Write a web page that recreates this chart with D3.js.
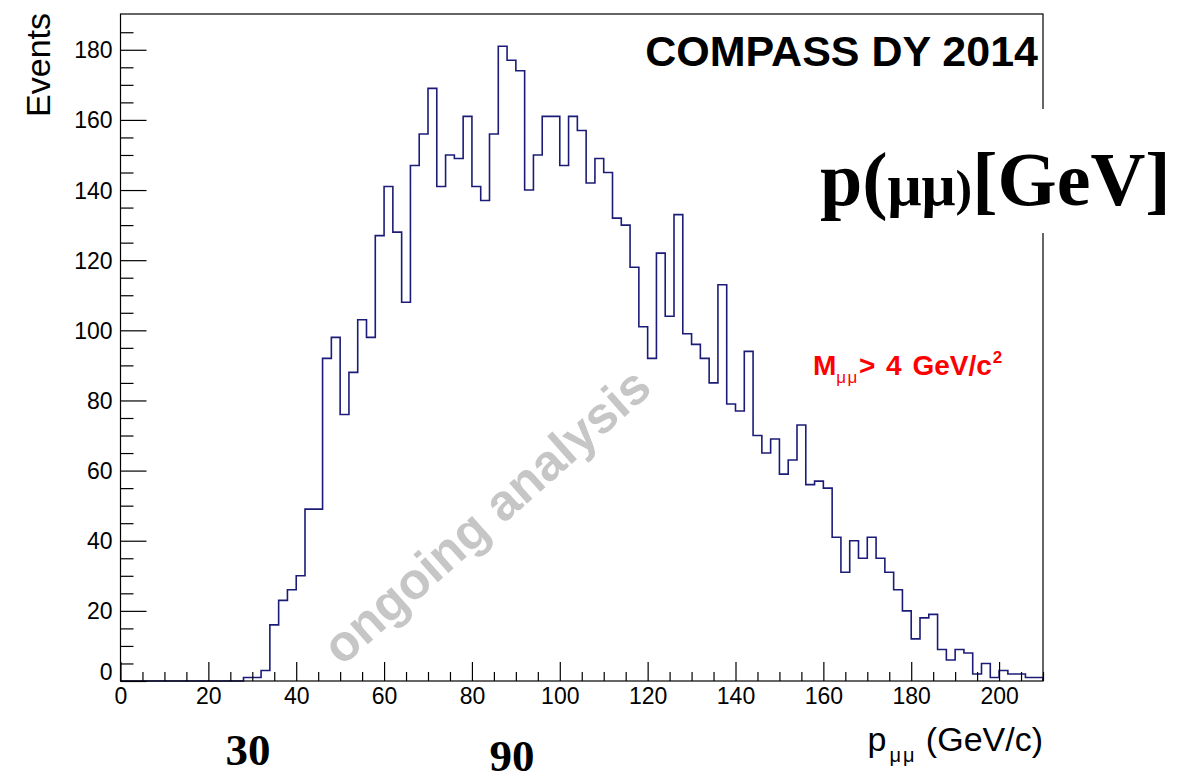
<!DOCTYPE html>
<html>
<head>
<meta charset="utf-8">
<script src="https://cdn.jsdelivr.net/npm/d3@7"></script>
<style>
  html, body { margin: 0; padding: 0; background: #fff; }
  svg { display: block; }
</style>
</head>
<body>
<svg id="chart" width="1190" height="773"></svg>
<script>
// Dimuon momentum spectrum, 2 GeV/c bins from 0 to 210 GeV/c
const binLow = 0;
const binWidth = 2;
const counts = [
  0, 0, 0, 0, 0, 0, 0, 0, 0, 0,
  0, 0, 0, 0, 1, 1, 3, 16, 23, 26,
  30, 49, 49, 92, 98, 76, 88, 103, 98, 127,
  141, 128, 108, 147, 156, 169, 141, 150, 149, 161,
  141, 137, 156, 181, 177, 174, 140, 150, 161, 161,
  147, 161, 157, 142, 149, 145, 132, 130, 118, 101,
  92, 122, 104, 133, 99, 96, 92, 85, 113, 79,
  77, 94, 70, 65, 69, 59, 63, 73, 56, 57,
  55, 41, 31, 40, 35, 41, 35, 31, 26, 20,
  12, 18, 19, 9, 6, 9, 8, 2, 5, 1,
  3, 2, 2, 1, 1
];

const xDomain = [0, 210];
const yDomain = [0, 190.2];
const xMajorTicks = [0, 20, 40, 60, 80, 100, 120, 140, 160, 180, 200];
const yMajorTicks = [0, 20, 40, 60, 80, 100, 120, 140, 160, 180];
const minorStep = 5;

const titleText = "COMPASS DY 2014";
const cutText = { main: "M", sub: "\u03bc\u03bc", rest: "> 4 GeV/c", sup: "2" };
const watermarkText = "ongoing analysis";
const yTitle = "Events";

const svg = d3.select("#chart");
const frame = { left: 120.5, right: 1043, top: 14, bottom: 681 };

const x = d3.scaleLinear().domain(xDomain).range([frame.left, frame.right]);
const y = d3.scaleLinear().domain(yDomain).range([frame.bottom, frame.top]);

const sans = "'Liberation Sans', Arial, Helvetica, sans-serif";
const serif = "'Liberation Serif', 'Times New Roman', serif";

// Watermark sits underneath everything else
svg.append("text")
  .attr("transform", "translate(489,519) rotate(-41.5)")
  .attr("text-anchor", "middle")
  .attr("dominant-baseline", "middle")
  .attr("font-family", sans)
  .attr("font-weight", "bold")
  .attr("font-size", 51)
  .attr("fill", "#c6c6c6")
  .text(watermarkText);

// Histogram outline
const pts = [[binLow, 0]];
counts.forEach((c, i) => {
  const lo = binLow + i * binWidth;
  pts.push([lo, c]);
  pts.push([lo + binWidth, c]);
});
pts.push([binLow + counts.length * binWidth, 0]);

svg.append("path")
  .datum(pts)
  .attr("fill", "none")
  .attr("stroke", "#1c1c78")
  .attr("stroke-width", 1.6)
  .attr("d", d3.line().x(d => x(d[0])).y(d => y(d[1])));

// Frame
svg.append("rect")
  .attr("x", frame.left).attr("y", frame.top)
  .attr("width", frame.right - frame.left)
  .attr("height", frame.bottom - frame.top)
  .attr("fill", "none").attr("stroke", "#000").attr("stroke-width", 1.2);

// Minor ticks
const xMinor = d3.range(xDomain[0], xDomain[1] + 0.001, minorStep).filter(v => v % 20 !== 0);
const yMinor = d3.range(0, 190, minorStep).filter(v => v % 20 !== 0);

svg.append("g")
  .attr("transform", `translate(0,${frame.bottom})`)
  .call(d3.axisBottom(x).tickValues(xMinor).tickSizeInner(-9).tickSizeOuter(0).tickFormat(""))
  .call(g => g.select(".domain").remove())
  .call(g => g.selectAll("line").attr("stroke", "#000").attr("stroke-width", 1.2));

svg.append("g")
  .attr("transform", `translate(${frame.left},0)`)
  .call(d3.axisLeft(y).tickValues(yMinor).tickSizeInner(-13).tickSizeOuter(0).tickFormat(""))
  .call(g => g.select(".domain").remove())
  .call(g => g.selectAll("line").attr("stroke", "#000").attr("stroke-width", 1.2));

// Major ticks with labels
const xAxis = svg.append("g")
  .attr("transform", `translate(0,${frame.bottom})`)
  .call(d3.axisBottom(x).tickValues(xMajorTicks).tickSizeInner(-19).tickSizeOuter(0).tickPadding(7).tickFormat(d3.format("d")))
  .call(g => g.select(".domain").remove());
xAxis.selectAll("line").attr("stroke", "#000").attr("stroke-width", 1.2);
xAxis.selectAll("text")
  .attr("font-family", sans).attr("font-size", 23).attr("fill", "#000")
  .attr("dy", "0.71em");

const yAxis = svg.append("g")
  .attr("transform", `translate(${frame.left},0)`)
  .call(d3.axisLeft(y).tickValues(yMajorTicks).tickSizeInner(-26).tickSizeOuter(0).tickPadding(8).tickFormat(d3.format("d")))
  .call(g => g.select(".domain").remove());
yAxis.selectAll("line").attr("stroke", "#000").attr("stroke-width", 1.2);
yAxis.selectAll("text")
  .attr("font-family", sans).attr("font-size", 23).attr("fill", "#000")
  .attr("dy", d => d === 0 ? "-0.05em" : "0.35em");

// Axis titles
svg.append("text")
  .attr("transform", `translate(50,${frame.top - 1}) rotate(-90)`)
  .attr("text-anchor", "end")
  .attr("font-family", sans).attr("font-size", 34).attr("fill", "#000")
  .text(yTitle);

const xt = svg.append("text")
  .attr("x", frame.right).attr("y", 751)
  .attr("text-anchor", "end")
  .attr("font-family", sans).attr("font-size", 34).attr("fill", "#000");
xt.append("tspan").text("p");
xt.append("tspan").attr("font-size", 20).attr("dy", 11).attr("dx", 3).attr("letter-spacing", 2).text("\u03bc\u03bc");
xt.append("tspan").attr("dy", -11).text(" (GeV/c)");

// Experiment label
svg.append("text")
  .attr("x", 1038).attr("y", 66)
  .attr("text-anchor", "end")
  .attr("font-family", sans).attr("font-weight", "bold").attr("font-size", 43)
  .attr("fill", "#000")
  .text(titleText);

// Mass cut annotation
const cut = svg.append("text")
  .attr("x", 813).attr("y", 375)
  .attr("font-family", sans).attr("font-weight", "bold").attr("font-size", 28)
  .attr("fill", "#ff0000");
cut.append("tspan").text(cutText.main);
cut.append("tspan").attr("font-size", 17).attr("font-weight", "normal").attr("dy", 8).attr("letter-spacing", 1.5).text(cutText.sub);
cut.append("tspan").attr("dy", -8).attr("word-spacing", 3).text(cutText.rest);
cut.append("tspan").attr("font-size", 17).attr("dy", -12).attr("dx", 1).text(cutText.sup);

// Quantity label on a white panel
svg.append("rect")
  .attr("x", 790).attr("y", 109).attr("width", 400).attr("height", 124)
  .attr("fill", "#fff");
const q = svg.append("text")
  .attr("x", 820).attr("y", 205)
  .attr("font-family", serif).attr("font-weight", "bold").attr("font-size", 76)
  .attr("fill", "#000");
q.append("tspan").text("p(");
q.append("tspan").attr("font-size", 60).text("\u03bc\u03bc");
q.append("tspan").attr("font-size", 50).text(")");
q.append("tspan").text("[GeV]");

// Reference momentum markers
svg.append("text")
  .attr("x", 248).attr("y", 765).attr("text-anchor", "middle")
  .attr("font-family", serif).attr("font-weight", "bold").attr("font-size", 45)
  .attr("fill", "#000").text("30");
svg.append("text")
  .attr("x", 512).attr("y", 771).attr("text-anchor", "middle")
  .attr("font-family", serif).attr("font-weight", "bold").attr("font-size", 45)
  .attr("fill", "#000").text("90");
</script>
</body>
</html>
